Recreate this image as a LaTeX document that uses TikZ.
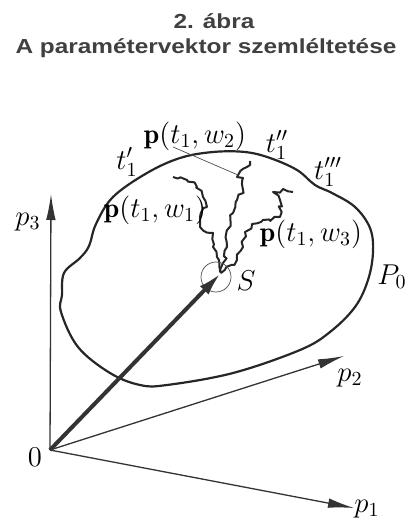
\documentclass[tikz,border=0pt]{standalone}
\usepackage{amsmath}
\usepackage{fontspec}
\newfontfamily\titlefont{Liberation Sans}
\usetikzlibrary{arrows.meta, decorations.pathmorphing}

\begin{document}
\begin{tikzpicture}[
    x=0.5bp, y=-0.5bp,
    title/.style={font=\titlefont\bfseries\fontsize{10.2}{12}\selectfont, text=black!75, xscale=1.2},
    lbl/.style={font=\fontsize{14}{16}\selectfont, inner sep=0pt},
    axis/.style={-{Latex[length=13bp, width=4.8bp]}, line width=0.65bp, black!80},
    vec/.style={-{Latex[length=12bp, width=6bp]}, line width=2bp, black!80},
    blob/.style={line width=1.1bp, black!85},
    walk/.style={decorate, decoration={random steps, segment length=2.2bp, amplitude=1.4bp}, line width=1bp, black!85, line join=round},
    thinline/.style={line width=0.35bp, black!70}
]
    \useasboundingbox (0,0) rectangle (413,520);

    % Title
    \node[title] (t1) at (214,21) {2. ábra};
    \node[title] (t2) at (206,48) {A paramétervektor szemléltetése};

    % Points
    \coordinate (O) at (50,450);
    \coordinate (S) at (221,273);
    \coordinate (p1tip) at (354,508);
    \coordinate (p2tip) at (344,356);
    \coordinate (p3tip) at (51,194);

    % Region P_0
    \draw[blob] plot[smooth cycle, tension=0.6] coordinates {
        (62,295) (64,273) (80,258) (89,246) (96,224) (113,197) (147,173)
        (180,158) (213,152) (245,152) (270,158) (297,170) (315,185)
        (332,193) (355,207) (370,228) (373,252) (368,280) (355,307)
        (330,332) (300,350) (233,373) (167,385) (140,385) (110,373)
        (78,347) (61,312)};

    % Axes
    \draw[axis] (O) -- (p3tip);
    \draw[axis] (O) -- (p2tip);
    \draw[axis] (O) -- (p1tip);

    % Random paths from S
    \pgfmathsetseed{11}
    \draw[walk] (S) -- (217,257) -- (213,247) -- (213,233) -- (200,227) -- (200,217)
        -- (207,207) -- (203,197) -- (197,187) -- (187,180) -- (173,177);
    \draw[walk] (S) -- (223,263) -- (227,247) -- (227,230) -- (233,213) -- (237,200)
        -- (243,190) -- (243,178) -- (237,177) -- (247,167) -- (250,161);
    \draw[walk] (S) -- (237,260) -- (243,247) -- (245,232) -- (252,224) -- (263,220)
        -- (280,217) -- (280,200) -- (273,192) -- (283,189) -- (293,192);
    \coordinate (w2end) at (238,175);
    \coordinate (lead) at (173,147);
    \draw[thinline] (lead) -- (w2end);

    % Vector and neighbourhood of S
    \node[circle, draw, thinline, minimum size=15bp, inner sep=0pt] (Sc) at (216,277) {};
    \draw[vec] (O) -- (S);

    % Labels
    \node[lbl] (lO) at (35,457) {$0$};
    \node[lbl] (lp3) at (28,222) {$p_3$};
    \node[lbl] (lp2) at (350,378) {$p_2$};
    \node[lbl] (lp1) at (367,509) {$p_1$};
    \node[lbl] (lS) at (246,281) {$S$};
    \node[lbl] (lP0) at (392,277) {$P_0$};
    \node[lbl] (lta) at (127,162) {$t_1'$};
    \node[lbl] (ltb) at (277,145) {$t_1''$};
    \node[lbl] (ltc) at (328,172) {$t_1'''$};
    \node[lbl] (lw2) at (195,136) {$\mathbf{p}(t_1,w_2)$};
    \node[lbl] (lw1) at (155,210) {$\mathbf{p}(t_1,w_1)$};
    \node[lbl] (lw3) at (311,234) {$\mathbf{p}(t_1,w_3)$};
\end{tikzpicture}
\end{document}
